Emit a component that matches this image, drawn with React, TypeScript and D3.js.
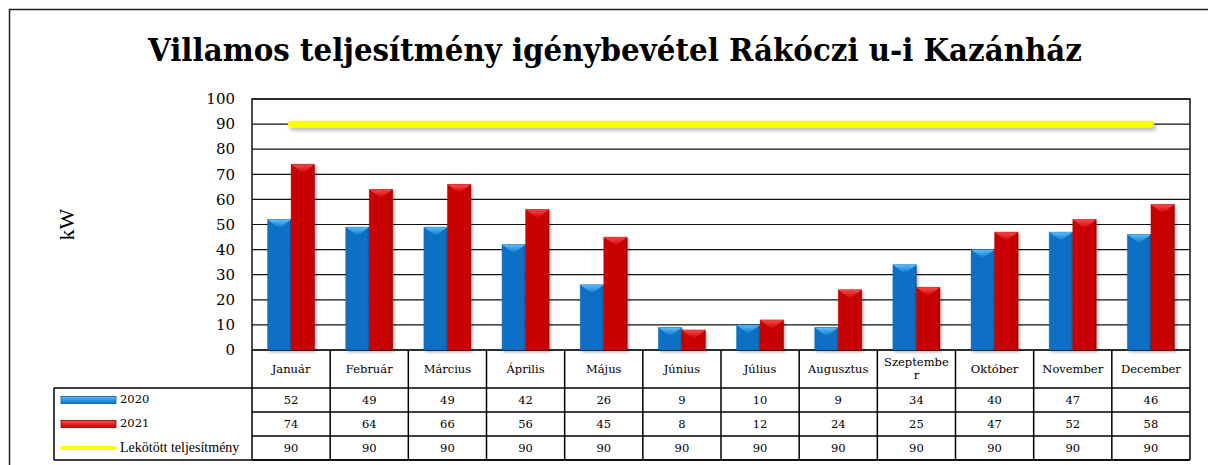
import React from 'react';
import * as d3 from 'd3';

// Chart data
const months = ['Január', 'Február', 'Március', 'Április', 'Május', 'Június', 'Július', 'Augusztus', 'Szeptember', 'Október', 'November', 'December'];
const values2020 = [52, 49, 49, 42, 26, 9, 10, 9, 34, 40, 47, 46];
const values2021 = [74, 64, 66, 56, 45, 8, 12, 24, 25, 47, 52, 58];
const contracted = [90, 90, 90, 90, 90, 90, 90, 90, 90, 90, 90, 90];
const yTicks = [0, 10, 20, 30, 40, 50, 60, 70, 80, 90, 100];

const title = 'Villamos teljesítmény igénybevétel Rákóczi u-i Kazánház';
const yAxisTitle = 'kW';
const series = [
  { key: '2020', label: '2020', values: values2020, base: '#0a6fc4', light: '#5cc0ff', dark: '#075a9e' },
  { key: '2021', label: '2021', values: values2021, base: '#c80000', light: '#ff4a4a', dark: '#9a0000' },
];
const lineLabel = 'Lekötött teljesítmény';

// Layout
const W = 1208;
const H = 465;
const plot = { left: 252, right: 1190, top: 99, bottom: 350 };
const table = { left: 54, catBottom: 388, rowH: 24 };
const serif = '"DejaVu Serif", "Liberation Serif", serif';

export default function App() {
  const x = d3.scaleBand<string>().domain(months).range([plot.left, plot.right]);
  const xInner = d3.scaleBand<string>().domain(series.map((s) => s.key)).range([0, x.bandwidth()]).paddingOuter(0.66);
  const y = d3.scaleLinear().domain([0, 100]).range([plot.bottom, plot.top]);

  const line = d3.line<number>()
    .x((_, i) => x(months[i])! + x.bandwidth() / 2)
    .y((d) => y(d));

  const rowTop = (i: number) => table.catBottom + i * table.rowH;
  const tableBottom = rowTop(3);

  return (
    <svg width={W} height={H} style={{ position: 'absolute', left: 0, top: 0, display: 'block' }}>
      <defs>
        {series.map((s) => (
          <linearGradient key={s.key} id={'bar' + s.key} x1="0" x2="1" y1="0" y2="0">
            <stop offset="0" stopColor={s.base} />
            <stop offset="0.9" stopColor={s.base} />
            <stop offset="1" stopColor={s.dark} />
          </linearGradient>
        ))}
        {series.map((s) => (
          <linearGradient key={s.key} id={'cap' + s.key} x1="0" x2="0" y1="0" y2="1">
            <stop offset="0" stopColor={s.light} />
            <stop offset="1" stopColor={s.base} />
          </linearGradient>
        ))}
        <filter id="shadow" x="-20%" y="-20%" width="140%" height="160%">
          <feDropShadow dx="1.5" dy="2" stdDeviation="1.5" floodColor="#000" floodOpacity="0.3" />
        </filter>
        <filter id="lineShadow" filterUnits="userSpaceOnUse" x={0} y={0} width={W} height={H}>
          <feDropShadow dx="2" dy="3" stdDeviation="2" floodColor="#000" floodOpacity="0.3" />
        </filter>
      </defs>

      <rect x={0} y={0} width={W} height={H} fill="#fff" />
      {/* outer frame */}
      <rect x={9.5} y={9.5} width={W + 20} height={H + 20} fill="none" stroke="#222" strokeWidth={1.5} />

      <text x={615} y={61} textAnchor="middle" fontFamily={serif} fontWeight="bold" fontSize={31}
        textLength={934} lengthAdjust="spacingAndGlyphs" fill="#000">{title}</text>

      {/* gridlines */}
      {yTicks.map((t) => (
        <line key={t} x1={plot.left} x2={plot.right} y1={y(t)} y2={y(t)} stroke="#111" strokeWidth={1.2} />
      ))}
      <rect x={plot.left} y={plot.top} width={plot.right - plot.left} height={plot.bottom - plot.top}
        fill="none" stroke="#111" strokeWidth={1.5} />

      {/* y tick labels */}
      {yTicks.map((t) => (
        <text key={t} x={235} y={y(t)} dy="0.35em" textAnchor="end" fontFamily={serif} fontSize={15} fill="#000">{t}</text>
      ))}
      <text transform={`translate(74,${(plot.top + plot.bottom) / 2}) rotate(-90)`} textAnchor="middle"
        fontFamily='"Liberation Serif", serif' fontSize={22} fill="#000">{yAxisTitle}</text>

      {/* bars */}
      {months.map((m, i) => (
        <g key={m}>
          {series.map((s) => {
            const bx = x(m)! + xInner(s.key)!;
            const bw = xInner.bandwidth();
            const by = y(s.values[i]);
            const bh = plot.bottom - by;
            const cap = Math.min(9, bh);
            return (
              <g key={s.key} filter="url(#shadow)">
                <rect x={bx} y={by} width={bw} height={bh} fill={`url(#bar${s.key})`} />
                <polygon points={`${bx},${by} ${bx + bw},${by} ${bx + bw / 2},${by + cap}`} fill={`url(#cap${s.key})`} />
                <rect x={bx} y={by} width={bw} height={bh} fill="none" stroke={s.dark} strokeOpacity={0.4} strokeWidth={0.8} />
              </g>
            );
          })}
        </g>
      ))}

      {/* contracted power line */}
      <path d={line(contracted) ?? ''} fill="none" stroke="#ffff00" strokeWidth={6.5} strokeLinecap="round" filter="url(#lineShadow)" />

      {/* data table */}
      <g stroke="#000" strokeWidth={1.5} fill="none">
        {d3.range(4).map((r) => (
          <line key={r} x1={r === 0 ? table.left : plot.left} x2={plot.right} y1={r === 0 ? table.catBottom : rowTop(r)} y2={r === 0 ? table.catBottom : rowTop(r)} />
        ))}
        <line x1={table.left} x2={plot.right} y1={tableBottom} y2={tableBottom} />
        <line x1={table.left} x2={table.left} y1={table.catBottom} y2={tableBottom} />
        {months.map((m) => (
          <line key={m} x1={x(m)!} x2={x(m)!} y1={plot.bottom} y2={tableBottom} />
        ))}
        <line x1={plot.right} x2={plot.right} y1={plot.bottom} y2={tableBottom} />
      </g>

      {months.map((m) => {
        const cx = x(m)! + x.bandwidth() / 2;
        const cy = (plot.bottom + table.catBottom) / 2;
        const long = m.length >= 10;
        return long ? (
          <text key={m} x={cx} textAnchor="middle" fontFamily={serif} fontSize={11.5} fill="#000">
            <tspan x={cx} y={cy - 3}>{m.slice(0, m.length - 1)}</tspan>
            <tspan x={cx} y={cy + 10}>{m.slice(m.length - 1)}</tspan>
          </text>
        ) : (
          <text key={m} x={cx} y={cy} dy="0.35em" textAnchor="middle" fontFamily={serif} fontSize={11.5} fill="#000">{m}</text>
        );
      })}

      {[values2020, values2021, contracted].map((vals, r) => (
        <g key={r}>
          {vals.map((v, i) => (
            <text key={i} x={x(months[i])! + x.bandwidth() / 2} y={rowTop(r) + table.rowH / 2} dy="0.35em"
              textAnchor="middle" fontFamily={serif} fontSize={11.5} fill="#000">{v}</text>
          ))}
        </g>
      ))}

      {/* legend keys in table */}
      {series.map((s, r) => (
        <g key={s.key}>
          <rect x={61} y={rowTop(r) + 8.5} width={55} height={7} fill={`url(#cap${s.key})`} stroke={s.dark} strokeWidth={0.8} />
          <text x={120} y={rowTop(r) + table.rowH / 2} dy="0.3em" fontFamily={serif} fontSize={11.5} fill="#000">{s.label}</text>
        </g>
      ))}
      <line x1={62} x2={115} y1={rowTop(2) + 12} y2={rowTop(2) + 12} stroke="#ffff00" strokeWidth={4} strokeLinecap="round" />
      <text x={120} y={rowTop(2) + table.rowH / 2} dy="0.3em" fontFamily='"Liberation Serif", serif' fontSize={14} fill="#000">{lineLabel}</text>
    </svg>
  );
}
